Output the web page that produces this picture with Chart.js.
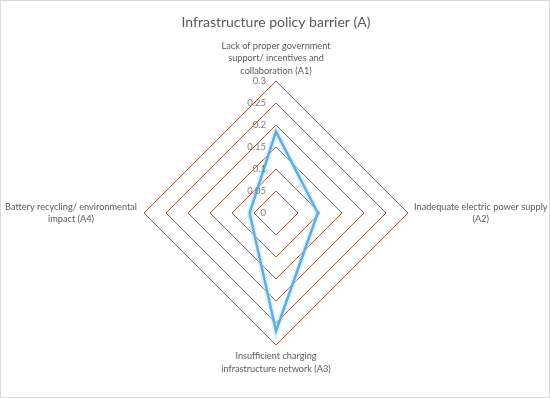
<!DOCTYPE html>
<html>
<head>
<meta charset="utf-8">
<script src="https://cdn.jsdelivr.net/npm/chart.js@4/dist/chart.umd.min.js"></script>
<style>
  html, body { margin: 0; padding: 0; background: #fff; }
  #wrap { position: relative; width: 548px; height: 396px; border: 1px solid #d9d9d9; }
</style>
</head>
<body>
<div id="wrap"><canvas id="radar"></canvas></div>
<script>
// Categories (axis labels) and series values
const categories = [
  ['Lack of proper government', 'support/ incentives and', 'collaboration (A1)'],
  ['Inadequate electric power supply', '(A2)'],
  ['Insufficient charging', 'infrastructure network (A3)'],
  ['Battery recycling/ environmental', 'impact (A4)'],
];
const barrierWeights = [0.185, 0.095, 0.268, 0.06];
const tickValues = [0, 0.05, 0.1, 0.15, 0.2, 0.25, 0.3];

const FONT = "Lato, 'Open Sans', sans-serif";
const TEXT = '#595959';
const GRID = '#a5553a';

// Tick labels right-aligned just left of the vertical axis
const tickLabelPlugin = {
  id: 'tickLabels',
  afterDatasetsDraw(chart) {
    const r = chart.scales.r;
    const ctx = chart.ctx;
    ctx.save();
    ctx.font = '9.5px ' + FONT;
    ctx.fillStyle = '#7f7f7f';
    ctx.textAlign = 'right';
    ctx.textBaseline = 'middle';
    tickValues.forEach(v => {
      const d = r.getDistanceFromCenterForValue(v);
      ctx.fillText(String(v), r.xCenter - 10, r.yCenter - d);
    });
    ctx.restore();
  },
};

// Category labels, each line centered, placed outside the outer ring
const pointLabelPlugin = {
  id: 'catLabels',
  afterDraw(chart) {
    const r = chart.scales.r;
    const ctx = chart.ctx;
    const lh = 12.5;
    ctx.save();
    ctx.font = '9.2px ' + FONT;
    ctx.fillStyle = TEXT;
    ctx.textAlign = 'center';
    ctx.textBaseline = 'middle';
    categories.forEach((lines, i) => {
      const p = r.getPointPosition(i, r.drawingArea);
      const widest = Math.max(...lines.map(l => ctx.measureText(l).width));
      const h = lines.length * lh;
      let cx = p.x, top = p.y - h / 2;
      if (i === 0) top = p.y - 4 - h;
      if (i === 2) top = p.y + 5;
      if (i === 1) cx = p.x + 6 + widest / 2;
      if (i === 3) cx = p.x - 7 - widest / 2;
      lines.forEach((l, k) => ctx.fillText(l, cx, top + lh * (k + 0.5)));
    });
    ctx.restore();
  },
};

new Chart(document.getElementById('radar'), {
  type: 'radar',
  data: {
    labels: categories,
    datasets: [
      {
        label: 'glow',
        data: barrierWeights,
        borderColor: 'rgba(160, 235, 250, 0.45)',
        borderWidth: 6,
        pointRadius: 0,
        fill: false,
      },
      {
        label: 'Infrastructure policy barrier (A)',
        data: barrierWeights,
        borderColor: '#4472c4',
        borderWidth: 2.5,
        pointRadius: 0,
        fill: false,
      },
    ],
  },
  options: {
    responsive: true,
    maintainAspectRatio: false,
    animation: false,
    layout: { padding: { top: 0, bottom: 52, left: 20, right: 18 } },
    plugins: {
      legend: { display: false },
      tooltip: { enabled: false },
      title: {
        display: true,
        text: 'Infrastructure policy barrier (A)',
        color: TEXT,
        font: { family: FONT, size: 14, weight: 'normal' },
        padding: { top: 13, bottom: 50.2 },
      },
    },
    scales: {
      r: {
        min: 0,
        max: 0.3,
        ticks: { stepSize: 0.05, display: false },
        angleLines: { display: false },
        grid: { color: GRID, lineWidth: 1 },
        pointLabels: { display: false },
      },
    },
  },
  plugins: [tickLabelPlugin, pointLabelPlugin],
});
</script>
</body>
</html>
